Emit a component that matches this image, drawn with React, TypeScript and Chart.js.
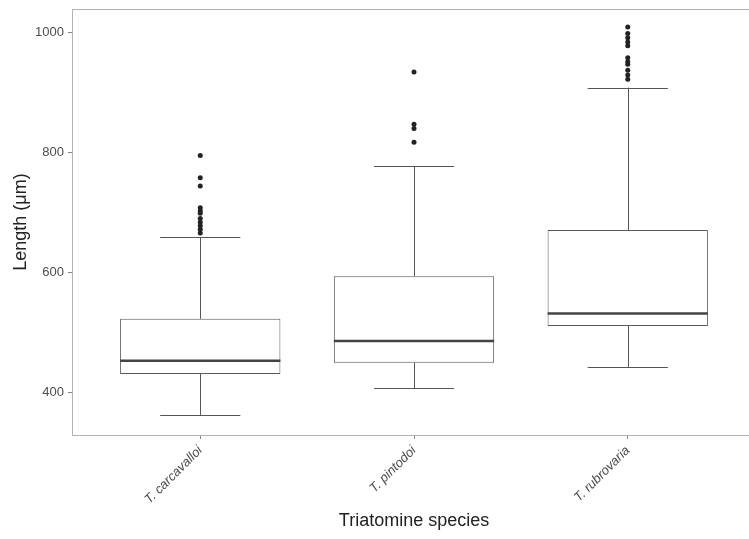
import React, { useEffect, useRef } from "react";
import { Chart, registerables } from "chart.js";

Chart.register(...registerables);

const categories = ["T. carcavalloi", "T. pintodoi", "T. rubrovaria"];
const lowerWhisker = [363, 407, 443];
const q1 = [431, 450, 511];
const median = [453, 486, 532];
const q3 = [523, 594, 671];
const upperWhisker = [659, 777, 908];
const outliers: number[][] = [
  [795, 758, 744, 708, 703, 699, 690, 684, 678, 672, 666],
  [934, 847, 840, 817],
  [1009, 998, 991, 984, 978, 958, 951, 947, 937, 929, 922],
];
const yTicks = [400, 600, 800, 1000];

const FONT = "'Liberation Sans', Arial, Helvetica, sans-serif";

export default function App() {
  const ref = useRef<HTMLCanvasElement | null>(null);

  useEffect(() => {
    document.body.style.margin = "0";
    const canvas = ref.current;
    if (!canvas) return;

    const boxPlugin = {
      id: "boxExtras",
      afterDatasetsDraw(chart: any) {
        const { ctx, chartArea, scales } = chart;
        const xs = scales.x;
        const ys = scales.y;
        const unit = xs.getPixelForValue(2) - xs.getPixelForValue(1);
        const capHalf = unit * 0.375 * 0.5;
        const boxHalf = unit * 0.75 * 0.5;
        ctx.save();
        categories.forEach((_, i) => {
          const cx = xs.getPixelForValue(i + 1);
          const px = Math.round(cx) + 0.5;
          ctx.strokeStyle = "#555555";
          ctx.lineWidth = 1;
          ctx.beginPath();
          ctx.moveTo(px, ys.getPixelForValue(q3[i]));
          ctx.lineTo(px, ys.getPixelForValue(upperWhisker[i]));
          ctx.moveTo(px, ys.getPixelForValue(q1[i]));
          ctx.lineTo(px, ys.getPixelForValue(lowerWhisker[i]));
          const yu = Math.round(ys.getPixelForValue(upperWhisker[i])) + 0.5;
          const yl = Math.round(ys.getPixelForValue(lowerWhisker[i])) + 0.5;
          ctx.moveTo(cx - capHalf, yu);
          ctx.lineTo(cx + capHalf, yu);
          ctx.moveTo(cx - capHalf, yl);
          ctx.lineTo(cx + capHalf, yl);
          ctx.stroke();
          ctx.strokeStyle = "#444444";
          ctx.lineWidth = 2.5;
          ctx.beginPath();
          const ym = ys.getPixelForValue(median[i]);
          ctx.moveTo(cx - boxHalf, ym);
          ctx.lineTo(cx + boxHalf, ym);
          ctx.stroke();
        });
        ctx.strokeStyle = "#b3b3b3";
        ctx.lineWidth = 1;
        ctx.strokeRect(
          Math.round(chartArea.left) + 0.5,
          Math.round(chartArea.top) + 0.5,
          Math.round(chartArea.right - chartArea.left),
          Math.round(chartArea.bottom - chartArea.top)
        );
        ctx.restore();
      },
    };

    const boxData = categories.map((_, i) => ({ x: i + 1, y: [q1[i], q3[i]] }));
    const outlierData: { x: number; y: number }[] = [];
    outliers.forEach((arr, i) => arr.forEach((v) => outlierData.push({ x: i + 1, y: v })));

    const chart = new Chart(canvas, {
      type: "bar",
      data: {
        datasets: [
          {
            type: "bar",
            data: boxData as any,
            backgroundColor: "#ffffff",
            borderColor: "#5a5a5a",
            borderWidth: 1,
            borderSkipped: false,
            categoryPercentage: 1,
            barPercentage: 0.75,
            order: 2,
          } as any,
          {
            type: "scatter",
            data: outlierData,
            backgroundColor: "#222222",
            borderColor: "#222222",
            pointRadius: 2.5,
            pointBorderWidth: 0,
            order: 1,
          } as any,
        ],
      },
      options: {
        responsive: false,
        animation: false,
        layout: { padding: { top: 9, right: 2, left: 0, bottom: 0 } },
        plugins: {
          legend: { display: false },
          tooltip: { enabled: false },
        },
        scales: {
          x: {
            type: "linear",
            offset: false,
            min: 0.4,
            max: 3.6,
            afterBuildTicks(scale: any) {
              scale.ticks = [{ value: 1 }, { value: 2 }, { value: 3 }];
            },
            afterFit(scale: any) {
              scale.height = 104;
              scale.paddingLeft = 0;
              scale.paddingRight = 0;
            },
            ticks: {
              autoSkip: false,
              minRotation: 45,
              maxRotation: 45,
              padding: 4,
              color: "#4d4d4d",
              font: { family: FONT, size: 13, style: "italic" },
              callback: (v: any) => categories[Math.round(Number(v)) - 1] ?? "",
            },
            grid: {
              display: true,
              offset: false,
              drawOnChartArea: false,
              drawTicks: true,
              tickLength: 4,
              color: "#888888",
            },
            border: { display: true, color: "#b3b3b3" },
            title: {
              display: true,
              text: "Triatomine species",
              color: "#222222",
              font: { family: FONT, size: 18 },
              padding: { top: 0, bottom: 7 },
            },
          },
          y: {
            type: "linear",
            min: 329.5,
            max: 1039,
            afterBuildTicks(scale: any) {
              scale.ticks = yTicks.map((v) => ({ value: v }));
            },
            afterFit(scale: any) {
              scale.width = 72;
              scale.paddingTop = 0;
              scale.paddingBottom = 0;
            },
            ticks: {
              padding: 4,
              color: "#4d4d4d",
              font: { family: FONT, size: 13 },
              callback: (v: any) => String(v),
            },
            grid: {
              display: true,
              drawOnChartArea: false,
              drawTicks: true,
              tickLength: 4,
              color: "#888888",
            },
            border: { display: true, color: "#b3b3b3" },
            title: {
              display: true,
              text: "Length (μm)",
              color: "#222222",
              font: { family: FONT, size: 18 },
              padding: { top: 10, bottom: 0 },
            },
          },
        },
      },
      plugins: [boxPlugin],
    });

    return () => chart.destroy();
  }, []);

  return (
    <div style={{ width: 749, height: 539, overflow: "hidden", background: "#fff" }}>
      <canvas ref={ref} width={760} height={539} style={{ display: "block" }} />
    </div>
  );
}
